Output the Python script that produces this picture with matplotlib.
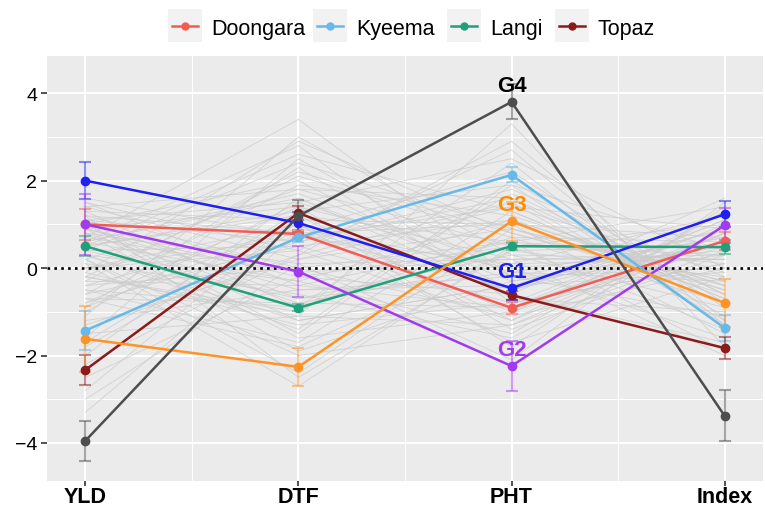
import matplotlib
matplotlib.use("Agg")
import matplotlib.pyplot as plt
from matplotlib.patches import Rectangle
from matplotlib.lines import Line2D

plt.rcParams["font.family"] = ["Liberation Sans", "DejaVu Sans"]

traits = ["YLD", "DTF", "PHT", "Index"]

# Check varieties (shown in the legend)
checks = ["Doongara", "Kyeema", "Langi", "Topaz"]
check_colors = ["#F25C54", "#66B9E8", "#1FA07A", "#8B1A1A"]
doongara = [1.00, 0.78, -0.91, 0.62]
doongara_se = [0.36, 0.10, 0.13, 0.20]
kyeema = [-1.43, 0.70, 2.13, -1.37]
kyeema_se = [0.44, 0.10, 0.17, 0.30]
langi = [0.50, -0.91, 0.50, 0.48]
langi_se = [0.23, 0.08, 0.08, 0.16]
topaz = [-2.33, 1.26, -0.62, -1.83]
topaz_se = [0.34, 0.16, 0.10, 0.25]

# Cluster group means
groups = ["G1", "G2", "G3", "G4"]
group_colors = ["#1F1FF0", "#A23AEF", "#FF9326", "#4D4D4D"]
group_label_colors = ["#1F1FF0", "#A23AEF", "#FF8C00", "#000000"]
g1 = [2.00, 1.03, -0.46, 1.23]
g1_se = [0.42, 0.26, 0.28, 0.30]
g2 = [1.00, -0.08, -2.24, 0.98]
g2_se = [0.70, 0.58, 0.57, 0.40]
g3 = [-1.62, -2.26, 1.07, -0.80]
g3_se = [0.75, 0.44, 0.45, 0.55]
g4 = [-3.95, 1.19, 3.80, -3.38]
g4_se = [0.46, 0.36, 0.40, 0.58]

# Individual genotype profiles (background)
bg_yld = [1.2, 0.9, 0.6, 1.5, -0.2, 0.3, -0.8, 1.1, 0.0, -1.3,
          0.7, -0.5, 1.4, 0.2, -1.0, 0.8, -0.3, 0.5, -1.8, 1.0,
          0.4, -0.7, 1.3, -2.2, 0.1, -0.1, 0.9, -1.5, 0.6, -0.4,
          1.6, -0.9, 0.3, -2.8, 0.8, -0.6, 1.2, 0.0, -1.2, 0.5,
          -0.2, 1.0, -3.3, 0.7, -0.8, 0.2, 1.4, -1.6, 0.4, -0.4,
          0.9, -2.5, 0.6, -0.1, 1.1, -1.1, 0.3, -0.6, 1.3, -2.0,
          0.0, 0.8, -0.3, 1.5, -1.4, 0.5, -0.7, 0.2, 1.0, -3.0,
          0.6, -0.5, 1.2, -0.9, 0.1, -1.7, 0.9, 0.4, -0.2, 1.1]
bg_dtf = [0.8, 1.4, -0.3, 0.4, 2.1, -1.2, 0.6, -0.7, 1.0, 0.2,
          3.4, -0.9, 1.8, -2.0, 1.5, 0.1, -0.4, 2.6, 0.9, -1.5,
          0.5, -1.8, 1.1, 0.3, -0.6, 2.9, -0.2, -1.1, 1.6, 0.0,
          0.7, 2.3, -1.4, 1.2, -0.8, 1.9, -2.5, 0.4, -0.5, 1.3,
          -1.0, 2.0, 0.8, -0.1, 1.4, -2.4, 0.2, 2.5, -0.7, 0.9,
          -1.6, -0.2, 1.7, -1.3, 0.6, 3.0, -0.3, 0.5, -0.9, 1.6,
          0.7, -1.9, 2.2, -0.4, 0.3, 1.2, -0.8, 1.8, -1.2, 0.1,
          2.8, -1.7, 0.0, 1.0, -2.7, 1.3, -0.5, 2.4, -1.1, 1.5]
bg_pht = [-0.5, 0.2, 1.1, -1.2, 0.7, -0.4, 1.6, 0.3, -1.0, 0.9,
          -0.2, 2.4, 0.5, -1.3, -0.1, -2.1, 0.6, 1.3, 0.0, 1.9,
          -0.8, 0.4, 1.0, 1.5, -1.6, 0.8, -0.6, 3.3, -0.3, -1.1,
          0.1, -0.7, 2.0, 0.6, -0.9, 1.2, 0.4, 2.7, -0.4, -1.8,
          1.7, -0.5, 1.0, 0.2, -1.4, 0.9, 1.4, -0.2, -0.1, 2.2,
          -1.0, 0.5, 0.0, -0.8, 1.8, 0.3, -1.5, 1.1, 0.7, -0.6,
          1.4, -0.3, 0.8, -0.9, 2.9, -1.2, 0.1, 1.6, -0.4, 0.2,
          -0.8, 1.3, 0.6, -1.7, 0.5, 1.9, -0.2, 0.9, -1.3, 2.5]
bg_index = [0.9, 0.3, -0.4, 1.3, -0.8, 0.6, -1.1, 0.2, 0.5, -0.6,
            0.0, -1.4, 1.0, 0.8, -0.3, 1.5, 0.1, -0.7, -1.6, 0.4,
            1.1, -0.2, 0.7, -1.2, 0.9, -0.5, 1.6, -1.8, 0.3, 0.0,
            1.2, -1.0, -0.9, -1.9, 0.8, -0.4, 0.5, -1.3, -0.1, 1.4,
            -0.6, 0.6, -1.5, 0.2, 0.3, -0.3, 0.9, -1.1, 0.7, -0.8,
            1.0, -1.4, 0.4, 0.1, -0.2, -0.9, 1.3, -0.5, 0.6, -1.7,
            -0.1, 0.5, -0.4, 1.1, -1.2, 0.8, 0.2, -0.6, 0.9, -2.0,
            0.1, -0.7, 1.4, -0.2, 0.3, -1.3, 0.7, -0.3, 0.4, 0.0]

W, H = 765, 510
fig = plt.figure(figsize=(W / 100, H / 100), dpi=100)
left, right, top, bottom = 47, 763, 57, 482
ax = fig.add_axes([left / W, (H - bottom) / H, (right - left) / W, (bottom - top) / H])
ax.set_facecolor("#EBEBEB")
for s in ax.spines.values():
    s.set_visible(False)

x = list(range(len(traits)))

# background genotype profiles
for a, b, c, d in zip(bg_yld, bg_dtf, bg_pht, bg_index):
    ax.plot(x, [a, b, c, d], color="#CBCBCB", lw=0.6, alpha=0.8, zorder=1)

ax.axhline(0, color="black", lw=1.9, ls=(0, (1, 1.6)), zorder=2)

def draw_series(vals, se, color):
    ax.errorbar(x, vals, yerr=se, fmt="none", ecolor=color, alpha=0.5,
                elinewidth=1.5, capsize=4.5, capthick=1.5, zorder=3)
    ax.plot(x, vals, color=color, lw=1.8, marker="o", ms=6, zorder=4)

for vals, se, col in zip([doongara, kyeema, langi, topaz],
                         [doongara_se, kyeema_se, langi_se, topaz_se], check_colors):
    draw_series(vals, se, col)

group_vals = [g1, g2, g3, g4]
for vals, se, col in zip(group_vals, [g1_se, g2_se, g3_se, g4_se], group_colors):
    draw_series(vals, se, col)

# group names above the PHT point
for name, vals, col in zip(groups, group_vals, group_label_colors):
    ax.text(2, vals[2] + 0.38, name, color=col, fontsize=16, fontweight="bold",
            ha="center", va="center", zorder=6)

ax.set_xlim(-0.18, 3.18)
ax.set_ylim(-4.87, 4.85)
ax.set_xticks(x)
ax.set_xticklabels(traits, fontsize=15.5, fontweight="bold")
ax.set_yticks([-4, -2, 0, 2, 4])
ax.set_yticklabels(["\u22124", "\u22122", "0", "2", "4"], fontsize=14)
ax.set_xticks([0.5, 1.5, 2.5], minor=True)
ax.set_yticks([-3, -1, 1, 3], minor=True)
ax.set_axisbelow(True)
ax.grid(which="major", color="white", lw=1.5)
ax.grid(which="minor", color="white", lw=0.7)
ax.tick_params(which="major", length=4, width=1.2, color="#333333", pad=3, labelcolor="black")
ax.tick_params(axis="x", which="major", length=3.5, pad=0)
ax.tick_params(which="minor", length=0)

# legend of check varieties across the top
key_x = [168, 313, 447, 555]
key_w, key_h = 34, 33
key_top = 10
text_gap = 9
yc = key_top + key_h / 2
for name, col, kx in zip(checks, check_colors, key_x):
    fig.patches.append(Rectangle((kx / W, (H - key_top - key_h) / H), key_w / W, key_h / H,
                                 transform=fig.transFigure, facecolor="#F2F2F2",
                                 edgecolor="none"))
    fig.lines.append(Line2D([(kx + 4) / W, (kx + key_w - 4) / W], [(H - yc) / H] * 2,
                            transform=fig.transFigure, color=col, lw=1.8))
    fig.lines.append(Line2D([(kx + key_w / 2) / W], [(H - yc) / H],
                            transform=fig.transFigure, color=col, marker="o", ms=5, lw=0))
    fig.text((kx + key_w + text_gap) / W, (H - yc) / H, name, fontsize=15.5,
             ha="left", va="center_baseline", color="black")

fig.savefig("out.png", dpi=100)
